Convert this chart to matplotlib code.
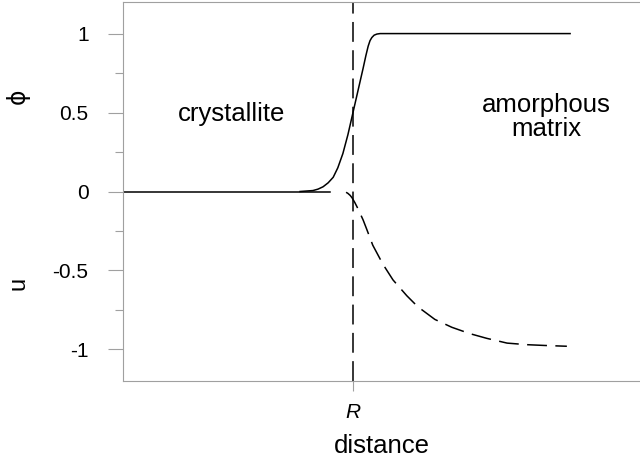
import matplotlib
matplotlib.use('Agg')
import matplotlib.pyplot as plt

plt.rcParams['font.family'] = ['Liberation Sans', 'DejaVu Sans']

# distance axis units: R = 5
R = 5.0

# flat part of phi inside the crystallite
flat_x = [0.0, 4.5]
flat_phi = [0.0, 0.0]

# phi profile across the interface
phi_x = [3.85, 4.13, 4.24, 4.35, 4.46, 4.57, 4.67, 4.78, 4.89, 5.0,
         5.11, 5.22, 5.28, 5.33, 5.37, 5.41, 5.46, 5.52, 5.59, 5.80, 9.72]
phi = [0.0, 0.006, 0.015, 0.03, 0.055, 0.09, 0.15, 0.24, 0.36, 0.50,
       0.64, 0.78, 0.86, 0.92, 0.955, 0.975, 0.99, 0.997, 1.0, 1.0, 1.0]

# u profile in the amorphous matrix
u_x = [4.85, 4.89, 4.94, 4.98, 5.04, 5.11, 5.22, 5.30, 5.43, 5.54, 5.65,
       5.87, 6.17, 6.41, 6.78, 7.15, 7.54, 7.91, 8.35, 8.78, 9.17, 9.65]
u = [-0.005, -0.012, -0.025, -0.04, -0.07, -0.11, -0.18, -0.24, -0.34, -0.40,
     -0.46, -0.56, -0.66, -0.73, -0.81, -0.86, -0.90, -0.93, -0.96, -0.97,
     -0.975, -0.98]

yticks = [-1, -0.5, 0, 0.5, 1]
ytick_labels = ['-1', '-0.5', '0', '0.5', '1']
yminor = [-0.75, -0.25, 0.25, 0.75]

fig = plt.figure(figsize=(6.4, 4.63), dpi=100)
ax = fig.add_axes([123/640, 82/463, 1 - 123/640, 379/463])

dash = (0, (13, 5.5))
ax.plot(flat_x, flat_phi, color='black', lw=1.1)
ax.plot(phi_x, phi, color='black', lw=1.1)
ax.plot(u_x, u, color='black', lw=1.1, linestyle=dash)
ax.axvline(R, color='black', lw=1.1, linestyle=dash)

ax.set_xlim(0, 11.24)
ax.set_ylim(-1.2, 1.2)

ax.set_yticks(yticks)
ax.set_yticklabels(ytick_labels, fontsize=15)
ax.set_yticks(yminor, minor=True)
ax.tick_params(axis='y', which='major', length=10.8, width=0.8, color='#a0a0a0', pad=14)
ax.tick_params(axis='y', which='minor', length=5.8, width=0.8, color='#a0a0a0')

ax.set_xticks([R])
ax.set_xticklabels(['R'], fontsize=15, fontstyle='italic')
ax.tick_params(axis='x', length=7.5, width=0.8, color='#a0a0a0', pad=8)
ax.set_xlabel('distance', fontsize=18.5, labelpad=9)

for side in ['left', 'top', 'bottom']:
    ax.spines[side].set_color('#a0a0a0')
    ax.spines[side].set_linewidth(0.8)
ax.spines['right'].set_visible(False)

ax.text(2.37, 0.49, 'crystallite', fontsize=18.5, ha='center', va='center')
ax.text(9.2, 0.47, 'amorphous\nmatrix', fontsize=18.5, ha='center', va='center',
        linespacing=1.0)

ax.text(-0.203, 0.6, '\u03d5', fontsize=17, rotation=90, ha='center', va='center',
        family=['DejaVu Sans'], transform=ax.get_yaxis_transform())
ax.text(-0.203, -0.58, 'u', fontsize=17, rotation=90, ha='center', va='center',
        transform=ax.get_yaxis_transform())

fig.savefig('out.png', dpi=100)
